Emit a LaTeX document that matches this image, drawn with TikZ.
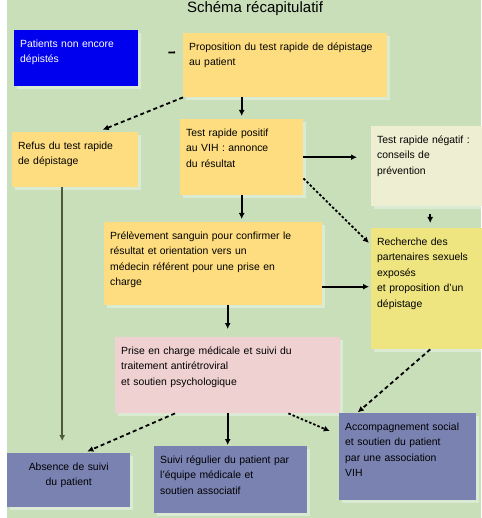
\documentclass[tikz,border=0pt]{standalone}
\usepackage{fontspec}
\setmainfont{Liberation Sans}
\usetikzlibrary{arrows.meta, shadows}

\definecolor{bggreen}{HTML}{C9DFBA}
\definecolor{boxorange}{HTML}{FEDD80}
\definecolor{boxcream}{HTML}{EEEED3}
\definecolor{boxyellow}{HTML}{EEE480}
\definecolor{boxpink}{HTML}{F0D1D2}
\definecolor{boxslate}{HTML}{7A82B2}
\definecolor{boxblue}{HTML}{0000EE}
\definecolor{lineolive}{HTML}{4B5B3B}

\begin{document}
\begin{tikzpicture}[x=1pt, y=-1pt,
    box/.style       = {rectangle, anchor=north west, align=left,
                        inner xsep=6pt, inner ysep=9pt, text height=8pt,
                        font=\fontsize{10.4}{15.5}\selectfont,
                        drop shadow={shadow xshift=3pt, shadow yshift=-3pt,
                                     fill=white, opacity=0.35}},
    arrow/.style     = {line width=1.8pt, -{Latex[length=6pt, width=6pt]}},
    dasharrow/.style = {arrow, dash pattern=on 4pt off 3pt},
    dotarrow/.style  = {arrow, dash pattern=on 2.5pt off 2pt}
]

% =====================
% Page and title
% =====================
\useasboundingbox (0,0) rectangle (481,518);
\fill[white] (0,0) rectangle (7,518);
\fill[bggreen] (7,0) rectangle (481,518);

\node[font=\fontsize{15}{15}\selectfont, anchor=base] (title) at (255,13) {Schéma récapitulatif};

% =====================
% Nodes (top to bottom)
% =====================

% Start
\node[box, fill=boxblue, text=white, minimum width=124pt, text width=112pt, text depth=30pt]
    (blue) at (14,30) {Patients non encore\\ dépistés};

\node[box, fill=boxorange, minimum width=204pt, text width=192pt, text depth=38pt]
    (top) at (183,33) {Proposition du test rapide de dépistage\\ au patient};

% Second row
\node[box, fill=boxorange, minimum width=126pt, text width=114pt, text depth=29pt]
    (left) at (12,132) {Refus du test rapide\\ de dépistage};

\node[box, fill=boxorange, minimum width=123pt, text width=111pt, text depth=50pt]
    (mid) at (180,119) {Test rapide positif\\ au VIH : annonce\\ du résultat};

\node[box, fill=boxcream, minimum width=118pt, text width=106pt, text depth=54pt]
    (cream) at (371,126) {Test rapide négatif :\\ conseils de\\ prévention};

% Third row
\node[box, fill=boxorange, minimum width=218pt, text width=206pt, text depth=57pt]
    (big) at (104,222) {Prélèvement sanguin pour confirmer le\\ résultat et orientation vers un\\ médecin référent pour une prise en\\ charge};

\node[box, fill=boxyellow, minimum width=118pt, text width=106pt, text depth=95pt]
    (yellow) at (371,228) {Recherche des\\ partenaires sexuels\\ exposés\\ et proposition d'un\\ dépistage};

% Fourth row
\node[box, fill=boxpink, minimum width=225pt, text width=213pt, text depth=50pt]
    (pink) at (115,337) {Prise en charge médicale et suivi du\\ traitement antirétroviral\\ et soutien psychologique};

% Outcomes
\node[box, fill=boxslate, align=center, minimum width=123pt, text width=100pt, text depth=28pt]
    (bl) at (7,453) {Absence de suivi\\ du patient};

\node[box, fill=boxslate, minimum width=153pt, text width=141pt, text depth=41pt]
    (bm) at (154,446) {Suivi régulier du patient par\\ l'équipe médicale et\\ soutien associatif};

\node[box, fill=boxslate, minimum width=137pt, text width=125pt, text depth=61pt]
    (br) at (339,413) {Accompagnement social\\ et soutien du patient\\ par une association\\ VIH};

% ====================================
% Connections
% ====================================

\draw[line width=1.8pt, shorten <=30pt, shorten >=8pt] ([yshift=5pt]blue.east) -- ([yshift=13pt]top.west);

\draw[arrow, shorten >=3pt] (top.south -| mid.north) -- (mid.north);
\draw[dasharrow, shorten >=6pt] (top.south west) -- ([xshift=22pt]left.north);

\draw[arrow, shorten >=14pt] (mid.east) -- (mid.east -| cream.west);
\draw[dotarrow, shorten >=3pt] ([yshift=17pt]mid.south east) -- ([yshift=-17pt]yellow.north west);
\draw[arrow, shorten <=8pt, shorten >=5pt] (cream.south) -- (yellow.north);

\draw[arrow, shorten >=3pt] (mid.south) -- (mid.south |- big.north);
\draw[arrow, shorten >=2pt] ([yshift=-23pt]big.east) -- ([yshift=-23pt]big.east -| yellow.west);
\draw[arrow, shorten >=8pt] (big.south -| pink.north) -- (pink.north);

\draw[arrow, lineolive, shorten >=12pt] ([xshift=-13pt]left.south) -- ([xshift=-13pt]left.south |- bl.north);
\draw[dasharrow, shorten >=4pt] ([xshift=60pt]pink.south west) -- ([xshift=15pt]bl.north);
\draw[arrow, shorten >=1pt] (pink.south) -- (pink.south |- bm.north);
\draw[dotarrow, shorten >=10pt] ([xshift=-52pt]pink.south east) -- ([yshift=-22pt]br.north west);
\draw[dasharrow, shorten >=1pt] (yellow.south) -- ([xshift=18pt]br.north west);

\end{tikzpicture}
\end{document}
